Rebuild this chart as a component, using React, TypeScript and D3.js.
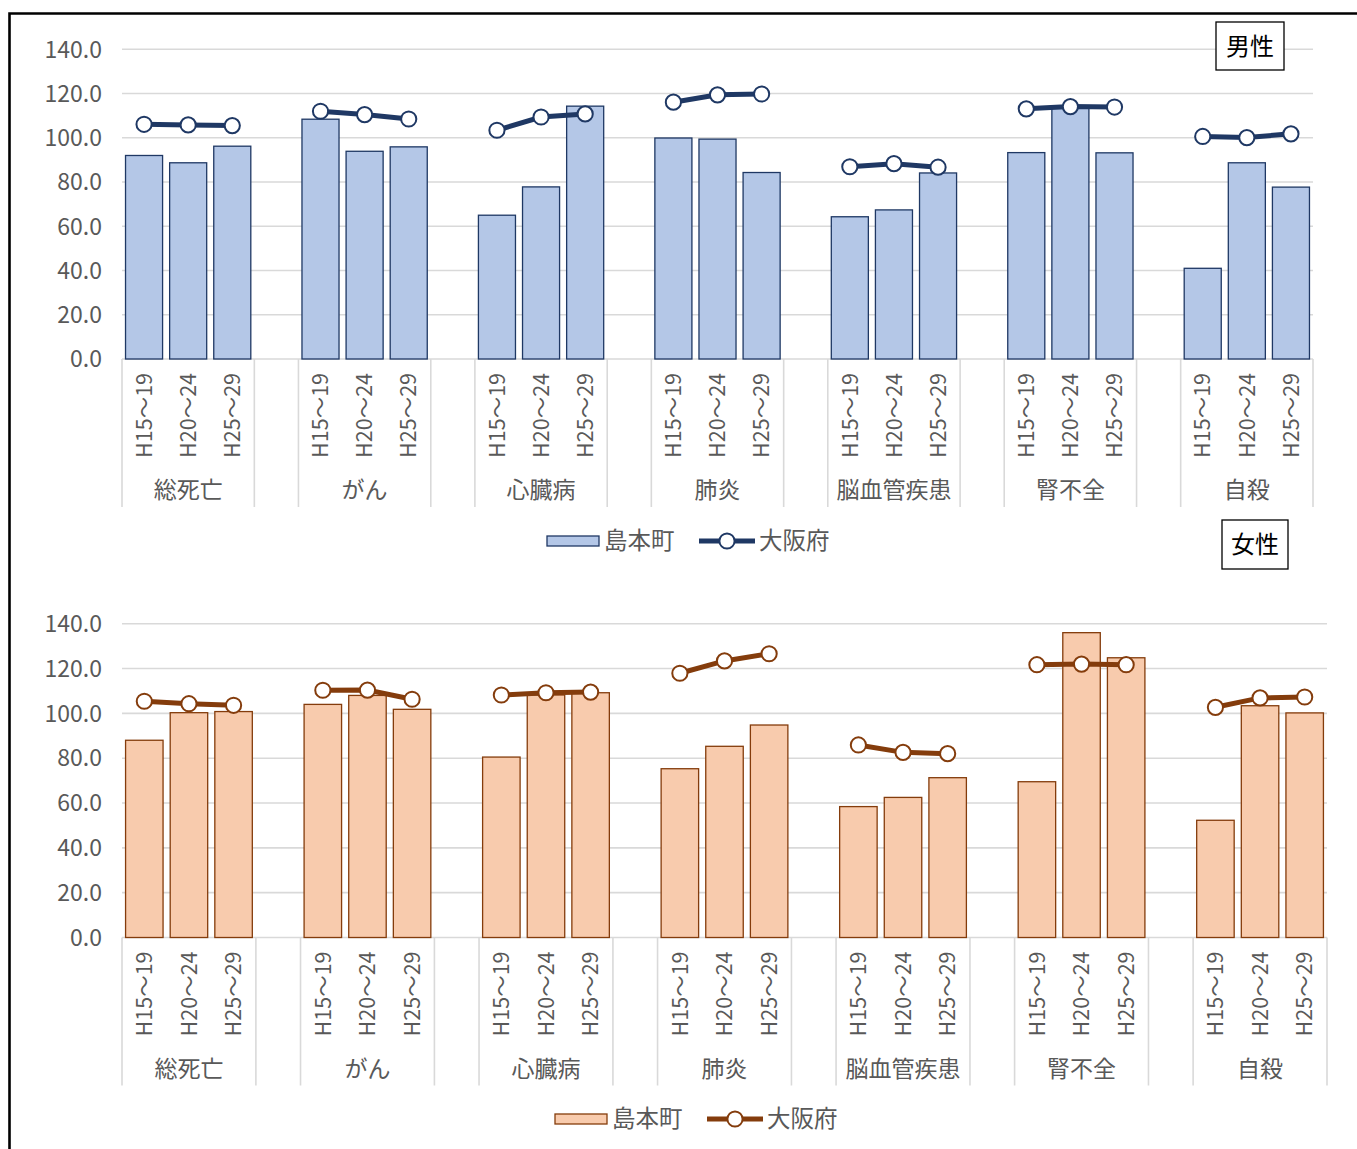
import React from 'react';
import * as d3 from 'd3';

// categories and series
const groups = ['総死亡', 'がん', '心臓病', '肺炎', '脳血管疾患', '腎不全', '自殺'];
const periods = ['H15～19', 'H20～24', 'H25～29'];
const yTicks = [0, 20, 40, 60, 80, 100, 120, 140];
const seriesNames = ['島本町', '大阪府'];

const maleTown = [92.0, 88.7, 96.2, 108.4, 93.9, 95.9, 65.0, 77.8, 114.3, 99.9, 99.4, 84.3, 64.3, 67.4, 84.1, 93.3, 113.4, 93.2, 41.0, 88.7, 77.7];
const malePref = [106.1, 105.8, 105.5, 112.0, 110.5, 108.5, 103.4, 109.4, 110.8, 116.1, 119.4, 119.8, 86.9, 88.3, 86.7, 113.1, 114.1, 113.9, 100.6, 100.1, 101.8];
const femaleTown = [88.0, 100.3, 100.8, 104.0, 108.0, 101.8, 80.5, 108.2, 109.2, 75.3, 85.3, 94.8, 58.4, 62.5, 71.3, 69.5, 136.0, 124.8, 52.3, 103.4, 100.2];
const femalePref = [105.4, 104.3, 103.6, 110.3, 110.4, 106.3, 108.2, 109.2, 109.5, 117.9, 123.4, 126.6, 85.9, 82.6, 82.0, 121.7, 122.0, 121.7, 102.7, 106.9, 107.3];

const FONT = '"Noto Sans CJK JP", "Noto Sans", sans-serif';
const GRID = '#D9D9D9';
const TEXT = '#595959';

// category slots: 3 periods per group, one empty slot between groups
const slots: string[] = [];
groups.forEach((g, gi) => {
  periods.forEach(p => slots.push(`${g}|${p}`));
  if (gi < groups.length - 1) slots.push(`gap${gi}`);
});

interface PanelProps {
  left: number;
  right: number;
  top: number;
  bottom: number;
  town: number[];
  pref: number[];
  fill: string;
  stroke: string;
  title: string;
  titleBox: { x: number; y: number; w: number; h: number };
  legendX: number;
  legendY: number;
}

const Panel: React.FC<PanelProps> = ({ left, right, top, bottom, town, pref, fill, stroke, title, titleBox, legendX, legendY }) => {
  const x = d3.scaleBand<string>().domain(slots).range([left, right]).paddingInner(0.16).paddingOuter(0.08);
  const y = d3.scaleLinear().domain([0, 140]).range([bottom, top]);
  const step = x.step();
  const center = (k: string) => (x(k) as number) + x.bandwidth() / 2;

  const line = d3.line<{ k: string; v: number }>().x(d => center(d.k)).y(d => y(d.v));

  // separator positions: edges of each group and gap slot
  const seps: number[] = [];
  groups.forEach((g, gi) => {
    const s = x(`${g}|${periods[0]}`) as number - x.paddingOuter() * 0 - (step - x.bandwidth()) / 2;
    seps.push(s, s + step * 3);
  });

  return (
    <g>
      {yTicks.map(t => (
        <g key={t}>
          <line x1={left} x2={right} y1={y(t)} y2={y(t)} stroke={GRID} strokeWidth={1.6} />
          <text x={left - 20} y={y(t)} dy="0.36em" textAnchor="end" fontSize={23} fill={TEXT} fontFamily={FONT}>
            {t.toFixed(1)}
          </text>
        </g>
      ))}
      {seps.map((s, i) => (
        <line key={i} x1={s} x2={s} y1={bottom} y2={bottom + 148} stroke={GRID} strokeWidth={1.6} />
      ))}
      {groups.map((g, gi) => {
        const keys = periods.map(p => `${g}|${p}`);
        const pts = keys.map((k, pi) => ({ k, v: pref[gi * 3 + pi] }));
        return (
          <g key={g}>
            {keys.map((k, pi) => {
              const v = town[gi * 3 + pi];
              return (
                <rect key={k} x={x(k)} y={y(v)} width={x.bandwidth()} height={y(0) - y(v)}
                  fill={fill} stroke={stroke} strokeWidth={1.3} />
              );
            })}
            <path d={line(pts) || ''} fill="none" stroke={stroke} strokeWidth={5} />
            {pts.map(p => (
              <circle key={p.k} cx={center(p.k)} cy={y(p.v)} r={7.6} fill="#fff" stroke={stroke} strokeWidth={2} />
            ))}
            {keys.map((k, pi) => (
              <text key={k} transform={`translate(${center(k)},${bottom + 14}) rotate(-90)`} textAnchor="end"
                dy="0.36em" fontSize={21.5} fill={TEXT} fontFamily={FONT}>
                {periods[pi]}
              </text>
            ))}
            <text x={center(keys[1])} y={bottom + 131} dy="0.36em" textAnchor="middle" fontSize={23} fill={TEXT} fontFamily={FONT}>
              {g}
            </text>
          </g>
        );
      })}
      <rect x={titleBox.x} y={titleBox.y} width={titleBox.w} height={titleBox.h} fill="#fff" stroke="#000" strokeWidth={1.3} />
      <text x={titleBox.x + titleBox.w / 2} y={titleBox.y + titleBox.h / 2} dy="0.36em" textAnchor="middle" fontSize={24} fill="#000" fontFamily={FONT}>
        {title}
      </text>
      <g>
        <rect x={legendX} y={legendY - 5} width={52} height={10} fill={fill} stroke={stroke} strokeWidth={1.3} />
        <text x={legendX + 57} y={legendY} dy="0.36em" fontSize={23.5} fill={TEXT} fontFamily={FONT}>{seriesNames[0]}</text>
        <line x1={legendX + 152} x2={legendX + 208} y1={legendY} y2={legendY} stroke={stroke} strokeWidth={5} />
        <circle cx={legendX + 180} cy={legendY} r={7.6} fill="#fff" stroke={stroke} strokeWidth={2} />
        <text x={legendX + 212} y={legendY} dy="0.36em" fontSize={23.5} fill={TEXT} fontFamily={FONT}>{seriesNames[1]}</text>
      </g>
    </g>
  );
};

const App: React.FC = () => {
  return (
    <svg width={1357} height={1149} style={{ position: 'absolute', left: 0, top: 0, background: '#fff' }}>
      <rect x={0} y={0} width={1357} height={1149} fill="#fff" />
      <Panel left={122} right={1313} top={49.3} bottom={359} town={maleTown} pref={malePref}
        fill="#B4C7E7" stroke="#1F3864" title="男性" titleBox={{ x: 1216, y: 22, w: 68, h: 48 }}
        legendX={547} legendY={541} />
      <Panel left={122} right={1327} top={623.7} bottom={937.5} town={femaleTown} pref={femalePref}
        fill="#F8CBAD" stroke="#843C0C" title="女性" titleBox={{ x: 1222, y: 520, w: 66, h: 49 }}
        legendX={555} legendY={1119} />
      <path d="M9.5,1160 V13.5 H1370" fill="none" stroke="#000" strokeWidth={2.6} />
    </svg>
  );
};

export default App;
